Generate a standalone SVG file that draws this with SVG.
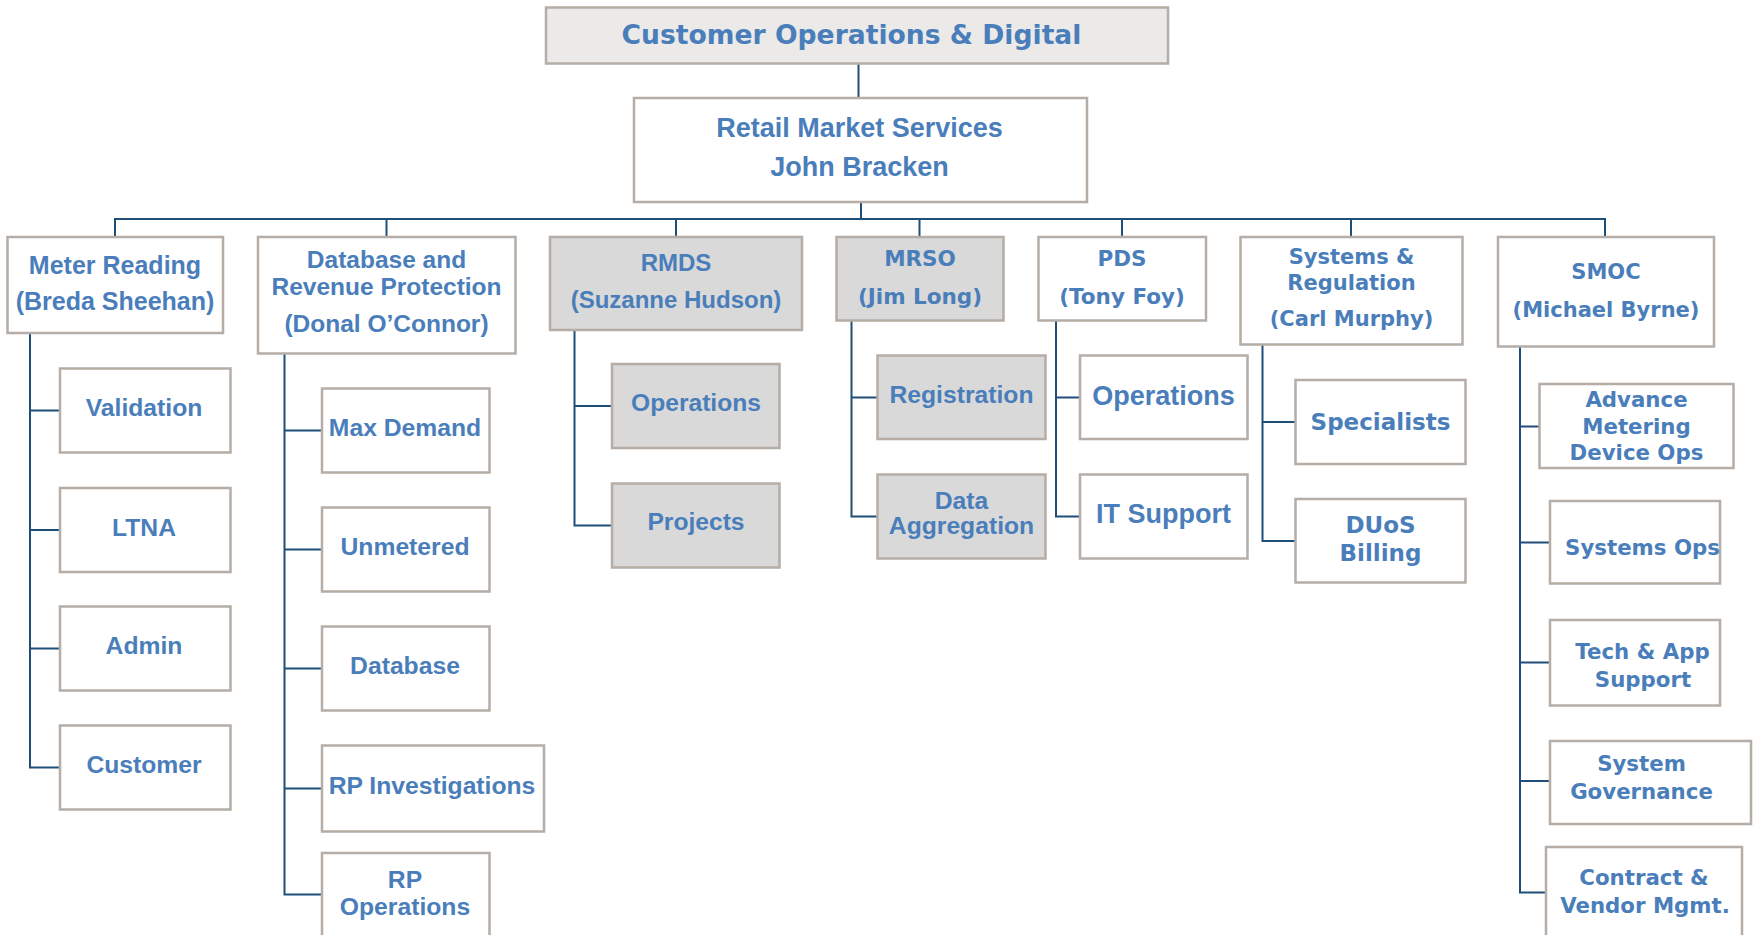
<svg xmlns="http://www.w3.org/2000/svg" width="1757" height="935" viewBox="0 0 1757 935">
  <style>
    .box { fill: #ffffff; stroke: #b5ada6; stroke-width: 2.5; }
    .grey { fill: #d9d9d9; }
    .head { fill: #ebeae8; }
    .a { font-family: "Liberation Sans", Arial, sans-serif; font-weight: bold; fill: #4a7ebb; text-anchor: middle; }
    .v { font-family: "DejaVu Sans", Verdana, sans-serif; font-weight: bold; fill: #4a7ebb; text-anchor: middle; }
    .conn path { stroke: #1f4e79; stroke-width: 2; fill: none; }
  </style>

  <!-- reporting lines -->
  <g id="connectors" class="conn">
    <path d="M858.5,63 V98"/>
    <path d="M861,202 V219"/>
    <path d="M115,237 V219 H1605 V237"/>
    <path d="M386.5,219 V237"/>
    <path d="M676,219 V237"/>
    <path d="M919.5,219 V237"/>
    <path d="M1122,219 V237"/>
    <path d="M1351,219 V237"/>
    <!-- Meter Reading teams -->
    <path d="M30,333 V767.5 H60"/>
    <path d="M30,410.5 H60 M30,530 H60 M30,648.5 H60"/>
    <!-- Database and Revenue Protection teams -->
    <path d="M284.5,353.5 V894.5 H322"/>
    <path d="M284.5,430.5 H322 M284.5,549.5 H322 M284.5,668.5 H322 M284.5,788.5 H322"/>
    <!-- RMDS teams -->
    <path d="M574.5,330 V525.5 H612"/>
    <path d="M574.5,406 H612"/>
    <!-- MRSO teams -->
    <path d="M851.5,320.5 V516.5 H877.5"/>
    <path d="M851.5,397.5 H877.5"/>
    <!-- PDS teams -->
    <path d="M1056,320.5 V516.5 H1080"/>
    <path d="M1056,397.5 H1080"/>
    <!-- Systems & Regulation teams -->
    <path d="M1262.5,344.5 V541 H1295.5"/>
    <path d="M1262.5,422 H1295.5"/>
    <!-- SMOC teams -->
    <path d="M1520,346.5 V892.5 H1546"/>
    <path d="M1520,426.5 H1539.5 M1520,542.5 H1550 M1520,662.5 H1550 M1520,781 H1550"/>
  </g>

  <!-- top level -->
  <g id="customer-ops">
    <rect class="box head" x="546" y="7.5" width="622" height="56"/>
    <text class="v" x="851.5" y="44" font-size="26.6">Customer Operations &amp; Digital</text>
  </g>
  <g id="retail-market-services">
    <rect class="box" x="634" y="98" width="453" height="104"/>
    <text class="a" x="859.5" y="136.5" font-size="27">Retail Market Services</text>
    <text class="a" x="859.5" y="175.5" font-size="27">John Bracken</text>
  </g>

  <!-- departments -->
  <g id="meter-reading">
    <rect class="box" x="7.5" y="237" width="215.5" height="96"/>
    <text class="a" x="115" y="274" font-size="25">Meter Reading</text>
    <text class="a" x="115" y="310" font-size="25">(Breda Sheehan)</text>
  </g>
  <g id="database-rp">
    <rect class="box" x="258" y="237" width="257.5" height="116.5"/>
    <text class="a" x="386.5" y="268" font-size="24.5">Database and</text>
    <text class="a" x="386.5" y="295" font-size="24.5">Revenue Protection</text>
    <text class="a" x="386.5" y="332" font-size="24.5">(Donal O’Connor)</text>
  </g>
  <g id="rmds">
    <rect class="box grey" x="550" y="237" width="252" height="93"/>
    <text class="a" x="676" y="270.5" font-size="24">RMDS</text>
    <text class="a" x="676" y="308" font-size="24">(Suzanne Hudson)</text>
  </g>
  <g id="mrso">
    <rect class="box grey" x="836.5" y="237" width="167" height="83.5"/>
    <text class="v" x="920" y="266" font-size="21.5">MRSO</text>
    <text class="v" x="920" y="303.5" font-size="21.5">(Jim Long)</text>
  </g>
  <g id="pds">
    <rect class="box" x="1038.5" y="237" width="167.5" height="83.5"/>
    <text class="v" x="1122" y="266" font-size="21.5">PDS</text>
    <text class="v" x="1122" y="303.5" font-size="21.5">(Tony Foy)</text>
  </g>
  <g id="systems-regulation">
    <rect class="box" x="1240.5" y="237" width="222" height="107.5"/>
    <text class="v" x="1351.5" y="264" font-size="21">Systems &amp;</text>
    <text class="v" x="1351.5" y="290" font-size="21">Regulation</text>
    <text class="v" x="1351.5" y="326" font-size="21">(Carl Murphy)</text>
  </g>
  <g id="smoc">
    <rect class="box" x="1498" y="237" width="216" height="109.5"/>
    <text class="v" x="1606" y="278.5" font-size="21">SMOC</text>
    <text class="v" x="1606" y="316.5" font-size="21">(Michael Byrne)</text>
  </g>

  <!-- Meter Reading teams -->
  <g id="validation">
    <rect class="box" x="60" y="368.5" width="170.5" height="84"/>
    <text class="a" x="144" y="416" font-size="24.7">Validation</text>
  </g>
  <g id="ltna">
    <rect class="box" x="60" y="488" width="170.5" height="84"/>
    <text class="a" x="144" y="535.5" font-size="24.7">LTNA</text>
  </g>
  <g id="admin">
    <rect class="box" x="60" y="606.5" width="170.5" height="84"/>
    <text class="a" x="144" y="654" font-size="24.7">Admin</text>
  </g>
  <g id="customer">
    <rect class="box" x="60" y="725.5" width="170.5" height="84"/>
    <text class="a" x="144" y="773" font-size="24.7">Customer</text>
  </g>

  <!-- Database and Revenue Protection teams -->
  <g id="max-demand">
    <rect class="box" x="322" y="388.5" width="167.5" height="84"/>
    <text class="a" x="405" y="436" font-size="24.7">Max Demand</text>
  </g>
  <g id="unmetered">
    <rect class="box" x="322" y="507.5" width="167.5" height="84"/>
    <text class="a" x="405" y="555" font-size="24.7">Unmetered</text>
  </g>
  <g id="database">
    <rect class="box" x="322" y="626.5" width="167.5" height="84"/>
    <text class="a" x="405" y="674" font-size="24.7">Database</text>
  </g>
  <g id="rp-investigations">
    <rect class="box" x="322" y="745.5" width="222" height="86"/>
    <text class="a" x="432" y="794" font-size="24.7">RP Investigations</text>
  </g>
  <g id="rp-operations">
    <rect class="box" x="322" y="853" width="167.5" height="95"/>
    <text class="a" x="405" y="888" font-size="24.7">RP</text>
    <text class="a" x="405" y="915" font-size="24.7">Operations</text>
  </g>

  <!-- RMDS teams -->
  <g id="rmds-operations">
    <rect class="box grey" x="612" y="364" width="167.5" height="84"/>
    <text class="a" x="696" y="411" font-size="24.6">Operations</text>
  </g>
  <g id="rmds-projects">
    <rect class="box grey" x="612" y="483.5" width="167.5" height="84"/>
    <text class="a" x="696" y="530" font-size="24.6">Projects</text>
  </g>

  <!-- MRSO teams -->
  <g id="registration">
    <rect class="box grey" x="877.5" y="355.5" width="168" height="83.5"/>
    <text class="a" x="961.5" y="403" font-size="24.7">Registration</text>
  </g>
  <g id="data-aggregation">
    <rect class="box grey" x="877.5" y="474.5" width="168" height="84"/>
    <text class="a" x="961.5" y="508.5" font-size="24.7">Data</text>
    <text class="a" x="961.5" y="533.5" font-size="24.7">Aggregation</text>
  </g>

  <!-- PDS teams -->
  <g id="pds-operations">
    <rect class="box" x="1080" y="355.5" width="167.5" height="83.5"/>
    <text class="a" x="1163.5" y="405" font-size="27">Operations</text>
  </g>
  <g id="it-support">
    <rect class="box" x="1080" y="474.5" width="167.5" height="84"/>
    <text class="a" x="1163.5" y="523" font-size="27">IT Support</text>
  </g>

  <!-- Systems & Regulation teams -->
  <g id="specialists">
    <rect class="box" x="1295.5" y="380" width="170" height="84"/>
    <text class="v" x="1380.5" y="429.5" font-size="23">Specialists</text>
  </g>
  <g id="duos-billing">
    <rect class="box" x="1295.5" y="499" width="170" height="83.5"/>
    <text class="v" x="1380.5" y="532.5" font-size="23">DUoS</text>
    <text class="v" x="1380.5" y="561" font-size="23">Billing</text>
  </g>

  <!-- SMOC teams -->
  <g id="advance-metering">
    <rect class="box" x="1539.5" y="384" width="194" height="84"/>
    <text class="v" x="1636.5" y="406.5" font-size="21.3">Advance</text>
    <text class="v" x="1636.5" y="433.5" font-size="21.3">Metering</text>
    <text class="v" x="1636.5" y="460" font-size="21.3">Device Ops</text>
  </g>
  <g id="systems-ops">
    <rect class="box" x="1550" y="501" width="170" height="82.5"/>
    <text class="v" x="1642.5" y="554.5" font-size="21.3">Systems Ops</text>
  </g>
  <g id="tech-app-support">
    <rect class="box" x="1550" y="620" width="170" height="85.5"/>
    <text class="v" x="1642.5" y="659" font-size="21.3">Tech &amp; App</text>
    <text class="v" x="1643" y="687" font-size="21.3">Support</text>
  </g>
  <g id="system-governance">
    <rect class="box" x="1550" y="741" width="201" height="83"/>
    <text class="v" x="1641.5" y="771" font-size="21.3">System</text>
    <text class="v" x="1641.5" y="798.5" font-size="21.3">Governance</text>
  </g>
  <g id="contract-vendor">
    <rect class="box" x="1546" y="847" width="196" height="95"/>
    <text class="v" x="1644" y="884.5" font-size="21.3">Contract &amp;</text>
    <text class="v" x="1645" y="912.5" font-size="21.3">Vendor Mgmt.</text>
  </g>
</svg>
